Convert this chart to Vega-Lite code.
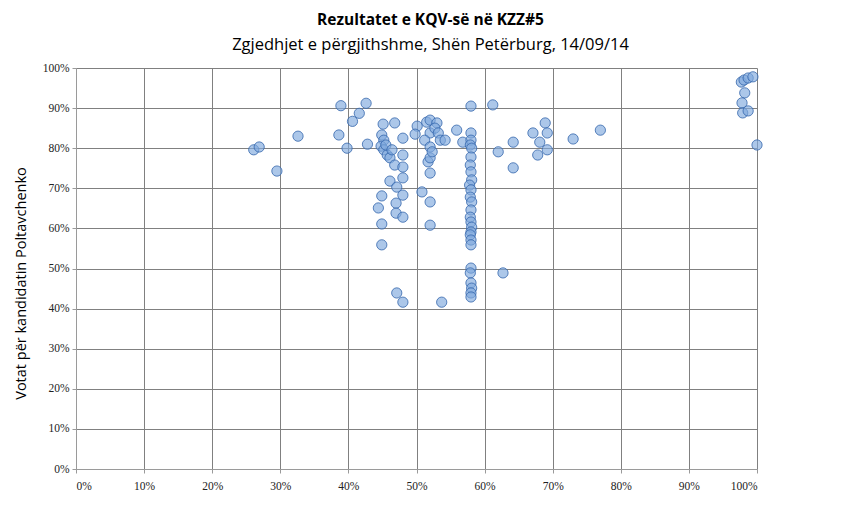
{
  "$schema": "https://vega.github.io/schema/vega-lite/v6.json",
  "width": 681,
  "height": 401,
  "autosize": "none",
  "padding": {"left": 76, "top": 68, "right": 92, "bottom": 49},
  "background": "#ffffff",
  "title": {
    "text": "Rezultatet e KQV-së në KZZ#5",
    "subtitle": "Zgjedhjet e përgjithshme, Shën Petërburg, 14/09/14",
    "font": "Open Sans",
    "fontSize": 15.5,
    "fontWeight": "bold",
    "color": "#000000",
    "subtitleFont": "Open Sans",
    "subtitleFontSize": 16.5,
    "subtitleColor": "#000000",
    "subtitlePadding": 8,
    "anchor": "middle",
    "dx": 14,
    "offset": 9
  },
  "config": {
    "view": {"stroke": null},
    "axis": {
      "gridColor": "#808080",
      "gridWidth": 1,
      "gridOpacity": 1,
      "domainColor": "#9a9a9a",
      "tickColor": "#9a9a9a",
      "tickSize": 4,
      "labelFont": "Liberation Sans Narrow",
      "labelFontSize": 11.5,
      "labelColor": "#222222",
      "titleFont": "Open Sans",
      "titleFontWeight": "normal",
      "titleFontSize": 14.5,
      "titleColor": "#000000"
    }
  },
  "data": {
    "values": [
      {"x": 26.1, "y": 79.6}, {"x": 26.9, "y": 80.3}, {"x": 29.5, "y": 74.3}, {"x": 32.6, "y": 83.0},
      {"x": 38.6, "y": 83.3}, {"x": 38.9, "y": 90.6}, {"x": 39.8, "y": 80.0}, {"x": 40.6, "y": 86.7},
      {"x": 41.6, "y": 88.7}, {"x": 42.6, "y": 91.2}, {"x": 42.8, "y": 81.0},
      {"x": 45.1, "y": 86.0}, {"x": 46.8, "y": 86.3}, {"x": 44.9, "y": 83.3}, {"x": 45.2, "y": 82.0},
      {"x": 44.8, "y": 80.5}, {"x": 45.2, "y": 79.6}, {"x": 45.7, "y": 78.3}, {"x": 46.1, "y": 77.6},
      {"x": 45.5, "y": 80.8}, {"x": 46.4, "y": 79.6},
      {"x": 48.0, "y": 82.5}, {"x": 48.0, "y": 78.3}, {"x": 46.8, "y": 75.8}, {"x": 48.0, "y": 75.3},
      {"x": 46.1, "y": 71.8}, {"x": 47.1, "y": 70.3}, {"x": 48.0, "y": 72.6}, {"x": 44.9, "y": 68.1},
      {"x": 47.0, "y": 66.3}, {"x": 48.0, "y": 68.3}, {"x": 44.4, "y": 65.1}, {"x": 47.0, "y": 63.8},
      {"x": 48.0, "y": 62.8}, {"x": 44.9, "y": 61.1}, {"x": 44.9, "y": 55.9}, {"x": 47.1, "y": 43.9},
      {"x": 48.0, "y": 41.6}, {"x": 50.1, "y": 85.5}, {"x": 49.8, "y": 83.5}, {"x": 51.5, "y": 86.5},
      {"x": 50.8, "y": 69.1}, {"x": 52.0, "y": 66.6}, {"x": 52.0, "y": 60.8}, {"x": 52.0, "y": 73.8},
      {"x": 51.7, "y": 76.6}, {"x": 52.0, "y": 87.0}, {"x": 53.0, "y": 86.3}, {"x": 52.0, "y": 83.8},
      {"x": 51.2, "y": 82.0}, {"x": 52.0, "y": 80.3}, {"x": 52.0, "y": 77.6}, {"x": 52.7, "y": 85.0},
      {"x": 53.2, "y": 83.8}, {"x": 53.5, "y": 82.0}, {"x": 54.2, "y": 82.0}, {"x": 55.9, "y": 84.5},
      {"x": 52.3, "y": 79.1}, {"x": 53.7, "y": 41.6},
      {"x": 58.0, "y": 90.5}, {"x": 56.8, "y": 81.5}, {"x": 58.0, "y": 83.8}, {"x": 58.0, "y": 82.0},
      {"x": 57.9, "y": 80.8}, {"x": 58.1, "y": 80.0}, {"x": 58.0, "y": 77.8}, {"x": 57.9, "y": 75.8},
      {"x": 58.0, "y": 74.1}, {"x": 58.1, "y": 72.1}, {"x": 57.8, "y": 70.8}, {"x": 58.0, "y": 69.6},
      {"x": 57.9, "y": 67.8}, {"x": 58.1, "y": 66.6}, {"x": 58.0, "y": 64.6}, {"x": 57.9, "y": 62.8},
      {"x": 58.0, "y": 61.6}, {"x": 58.1, "y": 60.3}, {"x": 58.0, "y": 59.1}, {"x": 57.9, "y": 58.4},
      {"x": 58.0, "y": 57.1}, {"x": 58.0, "y": 55.9}, {"x": 58.0, "y": 50.1}, {"x": 57.9, "y": 48.9},
      {"x": 58.0, "y": 46.4}, {"x": 58.1, "y": 45.1}, {"x": 58.0, "y": 43.9}, {"x": 58.0, "y": 42.9},
      {"x": 61.2, "y": 90.8}, {"x": 62.0, "y": 79.1}, {"x": 64.2, "y": 81.5}, {"x": 64.2, "y": 75.1},
      {"x": 62.7, "y": 48.9}, {"x": 67.1, "y": 83.8}, {"x": 68.9, "y": 86.3}, {"x": 69.2, "y": 83.8},
      {"x": 68.1, "y": 81.5}, {"x": 67.8, "y": 78.3}, {"x": 69.2, "y": 79.6}, {"x": 73.0, "y": 82.3},
      {"x": 77.0, "y": 84.5},
      {"x": 97.7, "y": 96.5}, {"x": 98.1, "y": 97.0}, {"x": 98.7, "y": 97.5}, {"x": 99.4, "y": 97.8},
      {"x": 98.2, "y": 93.8}, {"x": 97.8, "y": 91.3}, {"x": 97.9, "y": 88.8}, {"x": 98.7, "y": 89.3},
      {"x": 100.0, "y": 80.8}
    ]
  },
  "mark": {
    "type": "point",
    "shape": "circle",
    "filled": false,
    "size": 105,
    "fill": "#7fa9dd",
    "fillOpacity": 0.65,
    "stroke": "#3566ad",
    "strokeWidth": 1,
    "strokeOpacity": 0.8
  },
  "encoding": {
    "x": {
      "field": "x",
      "type": "quantitative",
      "scale": {"domain": [0, 100], "nice": false},
      "axis": {
        "values": [0, 10, 20, 30, 40, 50, 60, 70, 80, 90, 100],
        "labelExpr": "datum.value + '%'",
        "title": null,
        "labelPadding": 7
      }
    },
    "y": {
      "field": "y",
      "type": "quantitative",
      "scale": {"domain": [0, 100], "nice": false},
      "axis": {
        "values": [0, 10, 20, 30, 40, 50, 60, 70, 80, 90, 100],
        "labelExpr": "datum.value + '%'",
        "title": "Votat për kandidatin Poltavchenko",
        "labelPadding": 3,
        "titleX": -55,
        "titleY": 215,
        "titleAngle": -90,
        "titleAlign": "center",
        "titleBaseline": "middle"
      }
    }
  }
}
